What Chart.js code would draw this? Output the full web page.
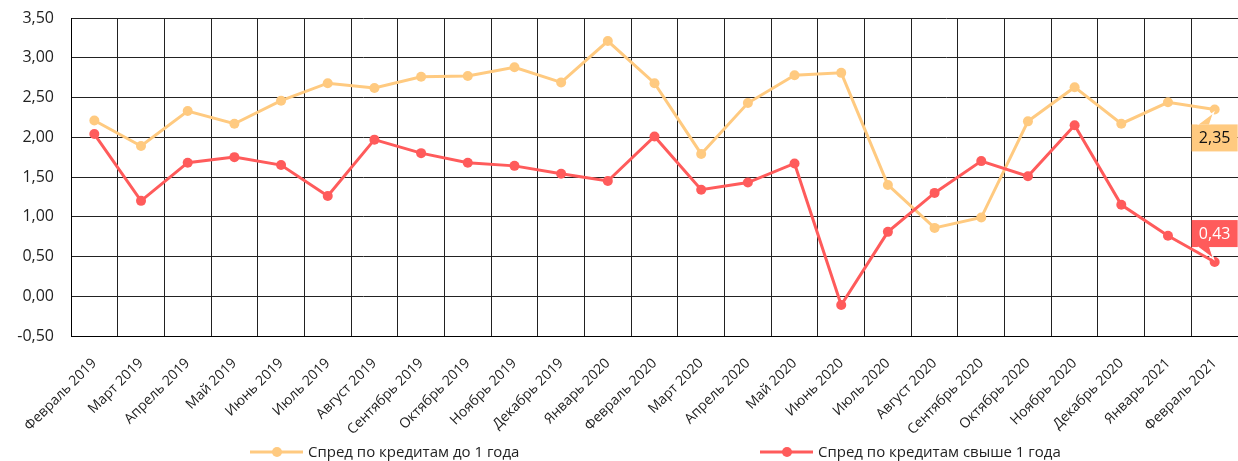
<!DOCTYPE html>
<html><head><meta charset="utf-8">
<script src="https://cdn.jsdelivr.net/npm/chart.js@4.4.1/dist/chart.umd.min.js"></script>
<style>html,body{margin:0;padding:0;background:#fff;}#wrap{position:relative;width:1238px;height:461px;}</style>
</head><body><div id="wrap"><canvas id="c" width="1238" height="461"></canvas></div>
<script>
const categories = ['Февраль 2019','Март 2019','Апрель 2019','Май 2019','Июнь 2019','Июль 2019','Август 2019','Сентябрь 2019','Октябрь 2019','Ноябрь 2019','Декабрь 2019','Январь 2020','Февраль 2020','Март 2020','Апрель 2020','Май 2020','Июнь 2020','Июль 2020','Август 2020','Сентябрь 2020','Октябрь 2020','Ноябрь 2020','Декабрь 2020','Январь 2021','Февраль 2021'];
const spreadShort = [2.21,1.89,2.33,2.17,2.46,2.68,2.62,2.76,2.77,2.88,2.69,3.21,2.68,1.79,2.43,2.78,2.81,1.40,0.86,0.99,2.20,2.63,2.17,2.44,2.35];
const spreadLong = [2.04,1.20,1.68,1.75,1.65,1.26,1.97,1.80,1.68,1.64,1.54,1.45,2.01,1.34,1.43,1.67,-0.11,0.81,1.30,1.70,1.51,2.15,1.15,0.76,0.43];
const seriesNames = ['Спред по кредитам до 1 года','Спред по кредитам свыше 1 года'];
const lastValueLabels = ['2,35','0,43'];
const yMin = -0.5, yMax = 3.5, yStep = 0.5;

const YELLOW = '#FFCA80', RED = '#FF5B5B';
const FONT = '"Open Sans", sans-serif';

const calloutPlugin = {
  id: 'callouts',
  afterDatasetsDraw(chart) {
    const ctx = chart.ctx;
    const cfg = [
      {ds: 0, below: true, fill: YELLOW, text: '#111'},
      {ds: 1, below: false, fill: RED, text: '#fff'}
    ];
    cfg.forEach(c => {
      const meta = chart.getDatasetMeta(c.ds);
      const pt = meta.data[meta.data.length - 1];
      const x = pt.x, y = pt.y;
      const w = 46, h = 27;
      const left = x - 23;
      const top = c.below ? y + 15 : y - 15 - h;
      ctx.save();
      ctx.fillStyle = c.fill;
      ctx.fillRect(left, top, w, h);
      ctx.beginPath();
      const ty = c.below ? top : top + h;
      ctx.moveTo(left + 6, ty);
      ctx.lineTo(left + 18, ty);
      ctx.lineTo(x - 1, c.below ? y + 3 : y - 3);
      ctx.closePath();
      ctx.fill();
      ctx.strokeStyle = '#fff';
      ctx.lineWidth = 1.2;
      ctx.beginPath();
      ctx.moveTo(left + 6, ty);
      ctx.lineTo(x - 1, c.below ? y + 3 : y - 3);
      ctx.lineTo(left + 18, ty);
      ctx.stroke();
      ctx.fillStyle = c.text;
      ctx.font = '16px ' + FONT;
      ctx.textAlign = 'center';
      ctx.textBaseline = 'middle';
      ctx.fillText(lastValueLabels[c.ds], x, top + h / 2 + 1);
      ctx.restore();
    });
  }
};

const legendPlugin = {
  id: 'customLegend',
  afterDraw(chart) {
    const ctx = chart.ctx;
    const items = [
      {name: seriesNames[0], color: YELLOW, x: 250},
      {name: seriesNames[1], color: RED, x: 760}
    ];
    const cy = 453;
    ctx.save();
    items.forEach(it => {
      ctx.strokeStyle = it.color;
      ctx.lineWidth = 3;
      ctx.beginPath();
      ctx.moveTo(it.x, cy - 1);
      ctx.lineTo(it.x + 53, cy - 1);
      ctx.stroke();
      ctx.fillStyle = it.color;
      ctx.beginPath();
      ctx.arc(it.x + 27, cy - 1, 5, 0, Math.PI * 2);
      ctx.fill();
      ctx.fillStyle = '#222';
      ctx.font = '15px ' + FONT;
      ctx.textAlign = 'left';
      ctx.textBaseline = 'middle';
      ctx.fillText(it.name, it.x + 58, cy);
    });
    ctx.restore();
  }
};

new Chart(document.getElementById('c'), {
  type: 'line',
  data: {
    labels: categories,
    datasets: [
      {label: seriesNames[0], data: spreadShort, borderColor: YELLOW, backgroundColor: YELLOW,
       borderWidth: 3, pointRadius: 5, pointHoverRadius: 5, pointBorderWidth: 0, tension: 0, order: 1},
      {label: seriesNames[1], data: spreadLong, borderColor: RED, backgroundColor: RED,
       borderWidth: 3, pointRadius: 5, pointHoverRadius: 5, pointBorderWidth: 0, tension: 0, order: 0}
    ]
  },
  options: {
    responsive: false,
    devicePixelRatio: 1,
    animation: false,
    layout: {autoPadding: false, padding: {top: 18, right: -2, left: 0, bottom: 0}},
    plugins: {legend: {display: false}, tooltip: {enabled: false}},
    scales: {
      x: {
        offset: true,
        grid: {offset: true, color: '#222', lineWidth: 1, drawTicks: false},
        border: {color: '#000', width: 1},
        ticks: {autoSkip: false, minRotation: 45, maxRotation: 45, padding: 19,
                color: '#222', font: {family: FONT, size: 14}},
        afterFit(s) { s.height = 125; s.paddingLeft = 0; s.paddingRight = 0; }
      },
      y: {
        min: yMin, max: yMax,
        grid: {color: '#222', lineWidth: 1, drawTicks: false},
        border: {color: '#000', width: 1},
        ticks: {stepSize: yStep, padding: 17, color: '#222', font: {family: FONT, size: 16},
                callback: v => v.toFixed(2).replace('.', ',')},
        afterFit(s) { s.width = 71; s.paddingTop = 0; s.paddingBottom = 0; }
      }
    }
  },
  plugins: [calloutPlugin, legendPlugin]
});
</script></body></html>
